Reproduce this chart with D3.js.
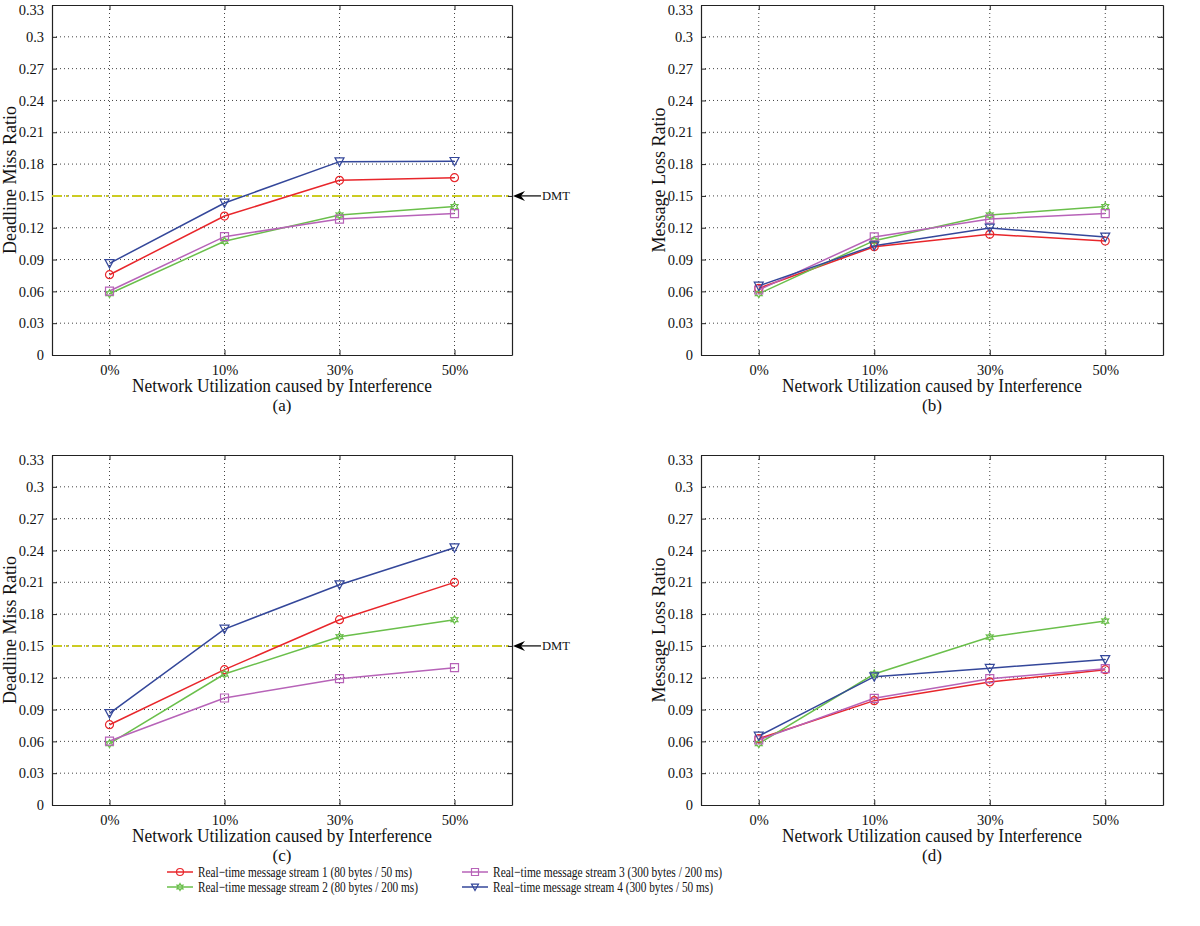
<!DOCTYPE html>
<html><head><meta charset="utf-8">
<script src="https://cdn.jsdelivr.net/npm/d3@7"></script>
<style>body{margin:0;background:#fff;} svg{display:block;} text{font-family:"Liberation Serif","Times New Roman",serif;fill:#111;}</style>
</head><body>
<svg id="chart" width="1200" height="926"></svg>
<script>
const categories = ["0%", "10%", "30%", "50%"];
const yTicks = [0, 0.03, 0.06, 0.09, 0.12, 0.15, 0.18, 0.21, 0.24, 0.27, 0.3, 0.33];
const yTickLabels = ["0","0.03","0.06","0.09","0.12","0.15","0.18","0.21","0.24","0.27","0.3","0.33"];
const seriesNames = [
  "Real\u2212time message stream 1 (80 bytes / 50 ms)",
  "Real\u2212time message stream 2 (80 bytes / 200 ms)",
  "Real\u2212time message stream 3 (300 bytes / 200 ms)",
  "Real\u2212time message stream 4 (300 bytes / 50 ms)"
];
const seriesColors = ["#e8262b", "#6abf4b", "#b763b8", "#34479a"];
const seriesMarkers = ["circle", "hexagram", "square", "triangleDown"];

// panel (a) Deadline Miss Ratio
const panelA_s1 = [0.0757, 0.131, 0.1647, 0.1672];
const panelA_s2 = [0.0578, 0.1072, 0.132, 0.1399];
const panelA_s3 = [0.0603, 0.1116, 0.1282, 0.1333];
const panelA_s4 = [0.0864, 0.1433, 0.1823, 0.1826];
// panel (b) Message Loss Ratio
const panelB_s1 = [0.0629, 0.1021, 0.1138, 0.1075];
const panelB_s2 = [0.0578, 0.1078, 0.132, 0.1399];
const panelB_s3 = [0.0613, 0.1113, 0.1282, 0.1333];
const panelB_s4 = [0.0651, 0.1031, 0.1197, 0.1113];
// panel (c) Deadline Miss Ratio
const panelC_s1 = [0.0757, 0.1276, 0.1747, 0.2099];
const panelC_s2 = [0.0578, 0.1235, 0.1587, 0.1747];
const panelC_s3 = [0.0603, 0.1009, 0.1191, 0.1295];
const panelC_s4 = [0.0864, 0.1659, 0.2077, 0.2426];
// panel (d) Message Loss Ratio
const panelD_s1 = [0.0625, 0.0984, 0.116, 0.1276];
const panelD_s2 = [0.0578, 0.1235, 0.1584, 0.1735];
const panelD_s3 = [0.0613, 0.1006, 0.1191, 0.1285];
const panelD_s4 = [0.0651, 0.121, 0.1289, 0.1373];

const dmtValue = 0.15;
const dmtLabel = "DMT";
const xLabel = "Network Utilization caused by Interference";

const panels = [
  {id:"(a)", ylabel:"Deadline Miss Ratio", data:[panelA_s1,panelA_s2,panelA_s3,panelA_s4], dmt:true, L:52, R:512, T:5, B:355},
  {id:"(b)", ylabel:"Message Loss Ratio", data:[panelB_s1,panelB_s2,panelB_s3,panelB_s4], dmt:false, L:701, R:1163, T:5, B:355},
  {id:"(c)", ylabel:"Deadline Miss Ratio", data:[panelC_s1,panelC_s2,panelC_s3,panelC_s4], dmt:true, L:52, R:512, T:455, B:805},
  {id:"(d)", ylabel:"Message Loss Ratio", data:[panelD_s1,panelD_s2,panelD_s3,panelD_s4], dmt:false, L:701, R:1163, T:455, B:805}
];

const svg = d3.select("#chart");

function markerPath(type, s) {
  if (type === "circle") return d3.symbol(d3.symbolCircle, Math.PI*s*s/4)();
  if (type === "square") { const h=s/2; return `M${-h},${-h}H${h}V${h}H${-h}Z`; }
  if (type === "triangleDown") { const h=s/2; return `M${-h},${-h*0.85}L${h},${-h*0.85}L0,${h}Z`; }
  if (type === "hexagram") {
    const r=s/2, pts=[];
    for (let i=0;i<12;i++){ const a=-Math.PI/2+i*Math.PI/6; const rr=(i%2===0)?r:r*0.55; pts.push([rr*Math.cos(a), rr*Math.sin(a)]); }
    return "M"+pts.map(p=>p.join(",")).join("L")+"Z";
  }
}

panels.forEach(p => {
  const g = svg.append("g");
  const x = d3.scaleLinear().domain([-0.5, 3.5]).range([p.L, p.R]);
  const y = d3.scaleLinear().domain([0, 0.33]).range([p.B, p.T]);

  // grid
  g.selectAll(".gy").data(yTicks.slice(1, -1)).join("line")
    .attr("x1", p.L).attr("x2", p.R).attr("y1", d=>y(d)).attr("y2", d=>y(d))
    .attr("stroke", "#444").attr("stroke-width", 1).attr("stroke-dasharray", "1,3");
  g.selectAll(".gx").data(categories).join("line")
    .attr("x1", (d,i)=>x(i)).attr("x2", (d,i)=>x(i)).attr("y1", p.T).attr("y2", p.B)
    .attr("stroke", "#444").attr("stroke-width", 1).attr("stroke-dasharray", "1,3");

  // axes
  const yAxisL = d3.axisLeft(y).tickValues(yTicks).tickFormat((d,i)=>yTickLabels[i]).tickSizeInner(-5).tickSizeOuter(0).tickPadding(8);
  const yAxisR = d3.axisRight(y).tickValues(yTicks).tickFormat("").tickSizeInner(-5).tickSizeOuter(0);
  const xAxisB = d3.axisBottom(x).tickValues([0,1,2,3]).tickFormat(i=>categories[i]).tickSizeInner(-5).tickSizeOuter(0).tickPadding(10);
  const xAxisT = d3.axisTop(x).tickValues([0,1,2,3]).tickFormat("").tickSizeInner(-5).tickSizeOuter(0);
  const axes = [
    g.append("g").attr("transform", `translate(${p.L},0)`).call(yAxisL),
    g.append("g").attr("transform", `translate(${p.R},0)`).call(yAxisR),
    g.append("g").attr("transform", `translate(0,${p.B})`).call(xAxisB),
    g.append("g").attr("transform", `translate(0,${p.T})`).call(xAxisT)
  ];
  axes.forEach(a => {
    a.selectAll("path").attr("stroke", "#222").attr("stroke-width", 1.2);
    a.selectAll("line").attr("stroke", "#222");
    a.selectAll("text").attr("font-family", "Liberation Serif, serif").attr("font-size", 14.5).attr("fill", "#111");
  });
  // keep the top tick label fully inside the page
  axes[0].selectAll("text").filter(d => d === 0.33).attr("dy", "0.62em");

  // DMT line
  if (p.dmt) {
    g.append("line").attr("x1", p.L).attr("x2", p.R).attr("y1", y(dmtValue)).attr("y2", y(dmtValue))
      .attr("stroke", "#cccc22").attr("stroke-width", 2).attr("stroke-dasharray", "10,4,2,4");
    const yy = y(dmtValue);
    g.append("line").attr("x1", p.R + 8).attr("x2", p.R + 29).attr("y1", yy).attr("y2", yy)
      .attr("stroke", "#000").attr("stroke-width", 1.2);
    g.append("path").attr("d", `M${p.R+1},${yy}L${p.R+13},${yy-5}L${p.R+9},${yy}L${p.R+13},${yy+5}Z`).attr("fill", "#000");
    g.append("text").attr("x", p.R + 30).attr("y", yy).attr("dy", "0.35em").attr("font-size", 13)
      .attr("textLength", 28).attr("lengthAdjust", "spacingAndGlyphs").text(dmtLabel);
  }

  // series lines
  const line = d3.line().x((d,i)=>x(i)).y(d=>y(d));
  p.data.forEach((vals, si) => {
    g.append("path").datum(vals).attr("d", line).attr("fill", "none")
      .attr("stroke", seriesColors[si]).attr("stroke-width", 1.5);
  });
  p.data.forEach((vals, si) => {
    g.selectAll(null).data(vals).join("path")
      .attr("transform", (d,i)=>`translate(${x(i)},${y(d)})`)
      .attr("d", markerPath(seriesMarkers[si], si===3?9:8))
      .attr("fill", "none")
      .attr("stroke", seriesColors[si]).attr("stroke-width", 1.2);
  });

  // labels
  const cx = (p.L + p.R) / 2;
  g.append("text").attr("x", cx).attr("y", p.B + 37).attr("text-anchor", "middle").attr("font-size", 18)
    .attr("textLength", 300).attr("lengthAdjust", "spacingAndGlyphs").text(xLabel);
  g.append("text").attr("x", cx).attr("y", p.B + 56).attr("text-anchor", "middle").attr("font-size", 17).text(p.id);
  g.append("text").attr("transform", `translate(${p.L - 36},${(p.T + p.B) / 2}) rotate(-90)`)
    .attr("text-anchor", "middle").attr("font-size", 18).text(p.ylabel);
});

// legend
const legendItems = [
  {x:167, y:872, len:214},
  {x:167, y:887, len:220},
  {x:462, y:872, len:229},
  {x:462, y:887, len:220}
];
legendItems.forEach((li, i) => {
  const g = svg.append("g");
  g.append("line").attr("x1", li.x).attr("x2", li.x + 26).attr("y1", li.y).attr("y2", li.y)
    .attr("stroke", seriesColors[i]).attr("stroke-width", 1.5);
  g.append("path").attr("transform", `translate(${li.x + 13},${li.y})`)
    .attr("d", markerPath(seriesMarkers[i], 7)).attr("fill", "none")
    .attr("stroke", seriesColors[i]).attr("stroke-width", 1.2);
  g.append("text").attr("x", li.x + 31).attr("y", li.y).attr("dy", "0.35em").attr("font-size", 15)
    .attr("textLength", li.len).attr("lengthAdjust", "spacingAndGlyphs").text(seriesNames[i]);
});
</script>
</body></html>
